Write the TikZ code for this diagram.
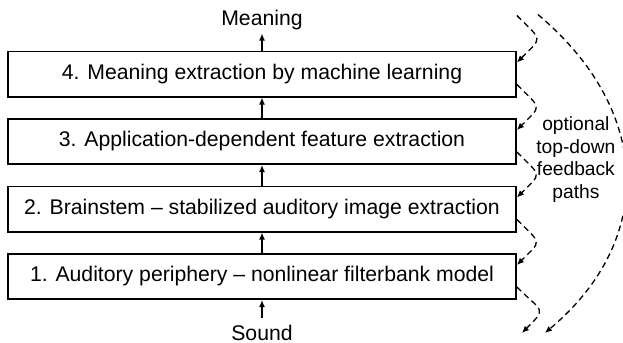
\documentclass[tikz,border=0pt]{standalone}
\usepackage{fontspec}
\setmainfont{Liberation Sans}
\usepackage{tikz}
\usetikzlibrary{arrows.meta, positioning}

\begin{document}
\begin{tikzpicture}[
        layer/.style={draw, line width=0.9pt, minimum width=254pt, minimum height=22.6pt,
            font=\fontsize{10.6}{12.7}\selectfont},
        io/.style={inner sep=0pt, font=\fontsize{10.6}{12.7}\selectfont},
        up/.style={line width=0.7pt, -{Latex[length=3.5pt,width=3pt]}},
        fb/.style={line width=0.65pt, dash pattern=on 3pt off 2pt, -{Latex[length=3.5pt,width=3pt]}},
        node distance=10.25pt]
        \useasboundingbox (-131pt,37pt) rectangle (180.5pt,-134.5pt);
        \node[layer] (b4) at (0,0) {4. Meaning extraction by machine learning};
        \node[layer, below=of b4] (b3) {3. Application-dependent feature extraction};
        \node[layer, below=of b3] (b2) {2. Brainstem -- stabilized auditory image extraction};
        \node[layer, below=of b2] (b1) {1. Auditory periphery -- nonlinear filterbank model};
        \node[io, above=10pt of b4] (meaning) {Meaning};
        \node[io, below=12.5pt of b1] (sound) {Sound};
        \node[align=center, inner sep=0pt, font=\fontsize{9.6}{11.4}\selectfont] (fbtext)
            at ([xshift=29.5pt,yshift=-9pt]b3.east) {optional\\top-down\\feedback\\paths};
%
        \coordinate (top) at ([yshift=17.5pt]b4.north east);
        \coordinate (bigtop) at ([xshift=10.5pt,yshift=18pt]b4.north east);
        \coordinate (bot) at ([xshift=2.5pt,yshift=-16.5pt]b1.south east);
        \coordinate (bigbot) at ([xshift=14pt,yshift=-16.5pt]b1.south east);
%
        \path[up]
        (sound) edge [shorten <=3.5pt] (b1)
        (b1) edge (b2)
        (b2) edge (b3)
        (b3) edge (b4)
        (b4) edge [shorten >=1.5pt] (meaning);
%
        \draw[fb] (top) to[out=-45, in=45, looseness=2] ([yshift=-6pt]b4.north east);
        \draw[fb] ([yshift=6.5pt]b4.south east) to[out=-45, in=45, looseness=2] ([yshift=-6pt]b3.north east);
        \draw[fb] ([yshift=6.5pt]b3.south east) to[out=-45, in=45, looseness=2] ([yshift=-6pt]b2.north east);
        \draw[fb] ([yshift=6.5pt]b2.south east) to[out=-45, in=45, looseness=2] ([yshift=-6pt]b1.north east);
        \draw[fb] ([yshift=6.5pt]b1.south east) to[out=-45, in=45, looseness=2] (bot);
        \draw[fb] (bigtop) to[out=-40, in=40, looseness=1.18] (bigbot);
\end{tikzpicture}
\end{document}
